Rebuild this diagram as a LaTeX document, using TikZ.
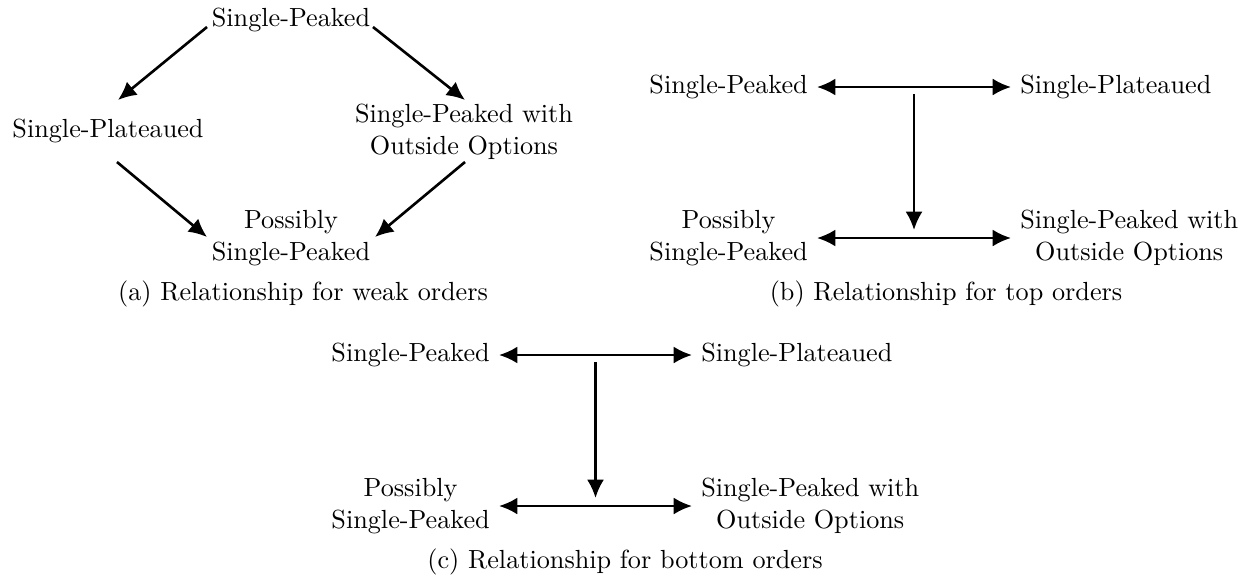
\documentclass[tikz,border=0pt]{standalone}
\usetikzlibrary{arrows.meta,calc}
\begin{document}
\begin{tikzpicture}[x=0.38168pt,y=-0.38168pt,
  lbl/.style={align=center},
  tipA/.tip={Latex[length=7pt,width=6.5pt]},
  arr/.style={line width=1pt,-tipA},
  darr/.style={line width=1pt,tipA-tipA}]
\useasboundingbox (0,0) rectangle (1250,577);
% (a)
\node[lbl] (a1) at (291,20) {Single-Peaked};
\node[lbl] (a2) at (108,131) {Single-Plateaued};
\node[lbl] (a3) at (464,132) {Single-Peaked with\\Outside Options};
\node[lbl] (a4) at (291,238) {Possibly\\Single-Peaked};
\node[lbl] (ca) at (303,294) {(a) Relationship for weak orders};
\draw[arr] ($(a1)+(-84,7)$) -- ($(a2)+(10,-31)$);
\draw[arr] ($(a1)+(82,7)$) -- ($(a3)+(1,-32)$);
\draw[arr] ($(a2)+(9,31)$) -- ($(a4)+(-84,-1)$);
\draw[arr] ($(a3)+(1,30)$) -- ($(a4)+(84,-1)$);
% (b)
\node[lbl,anchor=east] (b1) at (817,87) {Single-Peaked};
\node[lbl,anchor=west] (b2) at (1011,87) {Single-Plateaued};
\node[lbl,anchor=east] (b3) at (817,238) {Possibly\\Single-Peaked};
\node[lbl,anchor=west] (b4) at (1011,238) {Single-Peaked with\\Outside Options};
\node[lbl] (cb) at (946,294) {(b) Relationship for top orders};
\draw[darr] (b1) -- (b2);
\draw[darr] (b3) -- (b4);
\coordinate (bv) at ($(b1.east)!0.5!(b2.west)$);
\coordinate (bw) at ($(b3.east)!0.5!(b4.west)$);
\draw[arr] ($(bv)+(0,7)$) -- ($(bw)+(0,-8)$);
% (c)
\node[lbl,anchor=east] (c1) at (499,355) {Single-Peaked};
\node[lbl,anchor=west] (c2) at (692,355) {Single-Plateaued};
\node[lbl,anchor=east] (c3) at (499,506) {Possibly\\Single-Peaked};
\node[lbl,anchor=west] (c4) at (692,506) {Single-Peaked with\\Outside Options};
\node[lbl] (cc) at (625,562) {(c) Relationship for bottom orders};
\draw[darr] (c1) -- (c2);
\draw[darr] (c3) -- (c4);
\coordinate (cv) at ($(c1.east)!0.5!(c2.west)$);
\coordinate (cw) at ($(c3.east)!0.5!(c4.west)$);
\draw[arr] ($(cv)+(0,7)$) -- ($(cw)+(0,-8)$);
\end{tikzpicture}
\end{document}
